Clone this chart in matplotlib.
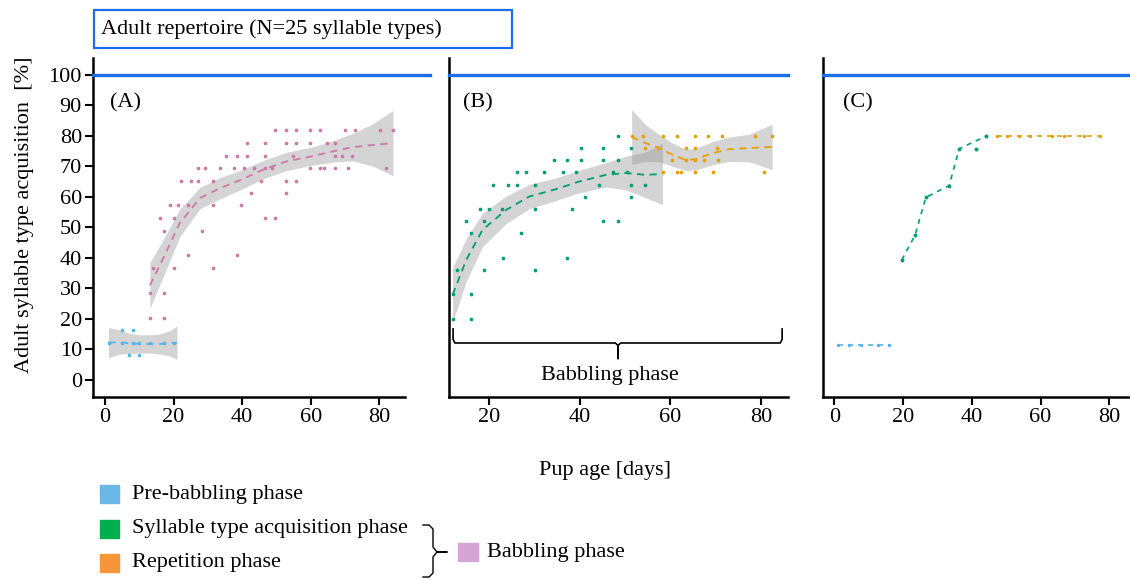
import numpy as np
import matplotlib.pyplot as plt
from matplotlib.patches import Rectangle
from matplotlib.lines import Line2D

plt.rcParams['font.family'] = ['Liberation Serif', 'DejaVu Serif']

BLUE = '#56b4e9'
GREEN = '#009e73'
ORANGE = '#e69f00'
PINK = '#cc79a7'
REF = '#1a6fe6'
BAND = '#949494'
FS = 16

# scatter points, grouped as (percent, [pup ages])
a_pre = [(16.4, [4.9, 8.1]),
         (12.2, [1.3, 4.9, 8.1, 10, 13.1, 17.2, 20.2]),
         (8.1, [7, 10])]
a_babb = [(82, [49.5, 52.7, 55.6, 59.7, 62.8, 70.1, 73, 80.2, 84]),
          (77.5, [41.5, 46.6, 52.7, 55.6, 59.7, 64.8, 67]),
          (73.3, [35.4, 38.4, 41.5, 46.6, 54.7, 67, 69, 72.1]),
          (69.3, [27.2, 29.3, 33.4, 37.5, 40.5, 43.4, 46.6, 48.6, 59.7, 62.8, 63.9, 67, 71, 82]),
          (65.2, [22.1, 25.2, 27.2, 31.4, 45.6, 52.7, 55.6]),
          (61.2, [42.5, 52.7]),
          (57.2, [19.1, 21.2, 24.2, 31.4, 39.6]),
          (53, [16, 20.2, 46.6, 49.6]),
          (48.9, [17.2, 28.3]),
          (40.8, [24.2, 38.4]),
          (36.6, [14.1, 20.2, 31.4]),
          (28.6, [13.1, 17.2]),
          (20.4, [13.1, 17.2])]
b_acq = [(80, [48.4]),
         (76, [40.3, 45.2, 51.3]),
         (72, [34.3, 37.2, 40.3, 45.2, 48.4]),
         (68, [26.1, 28.2, 32.2, 36.3, 39.2, 47.4, 50.4]),
         (64, [21, 24.2, 26.1, 30.2, 44.3, 51.3, 54.5]),
         (60, [41.3, 51.3]),
         (56, [18.1, 20.1, 22.9, 30.2, 38.3]),
         (52, [15, 19, 45.2, 48.4]),
         (48, [16.1, 27.1]),
         (40, [23.1, 37.2]),
         (36, [12.9, 19, 30.2]),
         (28, [12, 16.1]),
         (20, [12, 16.1])]
b_rep = [(80, [51.5, 53.9, 58.4, 61.5, 65.5, 68.4, 71.5, 78.7, 82.5]),
         (76, [54.5, 57.4, 63.4, 65.5, 70.3]),
         (72, [60.5, 63.4, 65.5, 67.5, 70.6]),
         (68, [58.4, 61.5, 62.5, 65.5, 69.5, 80.7])]

# smoothed trends: age, fitted percent, half width of confidence band
a_pre_fit_x = [1, 4, 7, 10, 13, 16, 19, 21]
a_pre_fit_y = [12.2, 12.4, 12.0, 11.8, 11.8, 11.8, 12.0, 12.2]
a_pre_fit_ci = [5, 4, 3.3, 3, 3, 3.3, 4.2, 5.5]
a_babb_fit_x = [13.1, 17.2, 21.8, 27.7, 33.5, 39.3, 46.1, 52.9, 60.7, 66.5, 72.3, 78.2, 84]
a_babb_fit_y = [31, 40.4, 51.4, 59.6, 62.8, 65.4, 68.9, 71.6, 73.4, 74.9, 76.3, 77, 77.6]
a_babb_fit_ci = [7.5, 6, 4.5, 3.5, 3.5, 3.2, 3, 3, 3, 3.5, 4.5, 7, 10.7]
b_acq_fit_x = [12, 15, 18.6, 23.8, 28.9, 34.8, 39.9, 45.8, 50.2, 54.6, 58.3]
b_acq_fit_y = [27.9, 39.3, 49.2, 55.7, 60.1, 62.5, 65, 67.2, 67.8, 67.2, 67.5]
b_acq_fit_ci = [9, 7, 5.5, 4.5, 4, 3.7, 3.7, 4, 5.5, 7.5, 10]
b_rep_fit_x = [51.5, 54.6, 57.5, 60.5, 63.4, 65.6, 69.3, 73, 77.4, 81.4, 82.5]
b_rep_fit_y = [79.6, 77.6, 76, 73.8, 72.1, 72.3, 74.3, 75.6, 76, 76.3, 76.3]
b_rep_fit_ci = [9, 6, 4.5, 3.8, 3.5, 3.5, 3.8, 4, 4.5, 6.8, 7.4]

# single animal in panel C
c_pre_x = [1, 4.3, 7.8, 12.8, 16]
c_pre_y = [11.5, 11.5, 11.5, 11.5, 11.5]
c_acq_x = [19.6, 23.5, 26.6, 33.4, 36.3, 41.2, 44.1]
c_acq_y = [39.3, 47.5, 59.8, 63.7, 75.7, 75.7, 79.8]
c_acq_line_x = [19.6, 23.5, 26.6, 33.4, 36.3, 40.5, 44.1]
c_acq_line_y = [39.3, 47.5, 59.8, 63.7, 75.7, 78, 79.8]
c_rep_x = [47.3, 50.2, 53.6, 56.8, 63.3, 66.7, 72.5, 77.4]
c_rep_y = [79.8] * 8

adult_level = 100

legend_labels = ['Pre-babbling phase', 'Syllable type acquisition phase', 'Repetition phase']
legend_colors = ['#69b8e8', '#00b050', '#f7953a']
babbling_color = '#d4a5d6'


def flatten(rows):
    xs, ys = [], []
    for pct, ages in rows:
        xs += ages
        ys += [pct] * len(ages)
    return xs, ys


def dots(ax, rows, color):
    xs, ys = flatten(rows)
    ax.scatter(xs, ys, s=7, color=color, linewidths=0, zorder=3)


def trend(ax, x, y, ci, color):
    x, y, ci = np.array(x), np.array(y), np.array(ci)
    ax.fill_between(x, y - ci, y + ci, color=BAND, alpha=0.4, linewidth=0, zorder=1)
    ax.plot(x, y, color=color, lw=1.3, ls=(0, (4, 3)), zorder=2)


W, H = 1130, 579
fig = plt.figure(figsize=(W / 100, H / 100), dpi=100)


def px(x0, y0, x1, y1):
    return [x0 / W, 1 - y1 / H, (x1 - x0) / W, (y1 - y0) / H]


axA = fig.add_axes(px(93, 58, 405, 397))
axB = fig.add_axes(px(449, 58, 788, 397))
axC = fig.add_axes(px(823, 58, 1130, 397))

for ax in (axA, axB, axC):
    for s in ['top', 'right']:
        ax.spines[s].set_visible(False)
    for s in ['left', 'bottom']:
        ax.spines[s].set_linewidth(1.8)
    ax.tick_params(axis='x', length=6, width=1.5, labelsize=FS, pad=2)
    ax.set_facecolor('none')

axA.set_xticks([0, 20, 40, 60, 80])
axB.set_xticks([20, 40, 60, 80])
axC.set_xticks([0, 20, 40, 60, 80])
axA.set_yticks(range(0, 101, 10))
axA.tick_params(axis='y', length=6, width=1.5, labelsize=FS, pad=2)
for ax in (axB, axC):
    ax.set_yticks([])

for ax, xl in [(axA, (-3.5, 87.5)), (axB, (11.2, 86)), (axC, (-3.3, 86))]:
    ax.set_xlim(*xl)
    ax.set_ylim(-5.6, 105.5)

xmax_ext = {axA: 1.08, axB: 1.0, axC: 1.0}
for ax, lab in [(axA, '(A)'), (axB, '(B)'), (axC, '(C)')]:
    ax.axhline(adult_level, xmin=0, xmax=xmax_ext[ax], color=REF, lw=2.4,
               clip_on=False, zorder=4)
    ax.text({axA: 0.054, axB: 0.041, axC: 0.064}[ax], 0.867, lab,
            transform=ax.transAxes, fontsize=FS, va='center')

# (A) group means
trend(axA, a_pre_fit_x, a_pre_fit_y, a_pre_fit_ci, BLUE)
trend(axA, a_babb_fit_x, a_babb_fit_y, a_babb_fit_ci, PINK)
dots(axA, a_pre, BLUE)
dots(axA, a_babb, PINK)

# (B) babbling split into acquisition and repetition
trend(axB, b_acq_fit_x, b_acq_fit_y, b_acq_fit_ci, GREEN)
trend(axB, b_rep_fit_x, b_rep_fit_y, b_rep_fit_ci, ORANGE)
dots(axB, b_acq, GREEN)
dots(axB, b_rep, ORANGE)

# curly brace over the babbling period
bx0, bx1, bmid = 12.1, 84.7, 48.5
btop, bline, btip = 16.7, 12.1, 7.0
axB.plot([bx0, bx0, bx0 + 0.4, bmid - 0.6, bmid, bmid, bmid, bmid + 0.6, bx1 - 0.4, bx1, bx1],
         [btop, bline + 1.2, bline, bline, bline - 0.8, btip, bline - 0.8, bline, bline, bline + 1.2, btop],
         color='black', lw=1.2, solid_joinstyle='round')
axB.text(bmid - 1.8, 1.6, 'Babbling phase', fontsize=FS, ha='center', va='center')

# (C) one animal
axC.plot(c_pre_x, c_pre_y, color=BLUE, lw=1.2, ls=(0, (3, 3)), zorder=2)
axC.scatter(c_pre_x, c_pre_y, s=6, color=BLUE, linewidths=0, zorder=3)
axC.plot(c_acq_line_x, c_acq_line_y, color=GREEN, lw=1.2, ls=(0, (3, 3)), zorder=2)
axC.scatter(c_acq_x, c_acq_y, s=8, color=GREEN, linewidths=0, zorder=3)
axC.plot(c_rep_x, c_rep_y, color=ORANGE, lw=1.2, ls=(0, (3, 3)), zorder=2)
axC.scatter(c_rep_x, c_rep_y, s=6, color=ORANGE, linewidths=0, zorder=3)

# title box
fig.patches.append(Rectangle((94 / W, 1 - 48 / H), 418 / W, 38 / H, transform=fig.transFigure,
                             fill=False, edgecolor=REF, lw=1.6))
fig.text(101 / W, 1 - 29 / H, 'Adult repertoire (N=25 syllable types)', fontsize=FS, va='center')

fig.text(25 / W, 1 - 215 / H, 'Adult syllable type acquisition  [%]', fontsize=FS,
         rotation=90, ha='center', va='center')
fig.text(605 / W, 1 - 470 / H, 'Pup age [days]', fontsize=FS, ha='center', va='center')

# phase legend
for i, (lab, col) in enumerate(zip(legend_labels, legend_colors)):
    yc = 494 + i * 34.5
    fig.patches.append(Rectangle((100 / W, 1 - (yc + 9) / H), 19 / W, 18 / H,
                                 transform=fig.transFigure, color=col))
    fig.text(132 / W, 1 - yc / H, lab, fontsize=FS, va='center')

bxs = np.array([423, 429, 433, 433, 437, 447, 437, 433, 433, 429, 423]) / W
bys = 1 - np.array([525, 525, 529, 547, 552, 552, 552, 557, 573, 577, 577]) / H
fig.lines.append(Line2D(bxs, bys, transform=fig.transFigure, color='black', lw=1.0))
fig.patches.append(Rectangle((458 / W, 1 - 561 / H), 20 / W, 18 / H,
                             transform=fig.transFigure, color=babbling_color))
fig.text(487 / W, 1 - 552 / H, 'Babbling phase', fontsize=FS, va='center')

fig.savefig('out.png', dpi=100)
